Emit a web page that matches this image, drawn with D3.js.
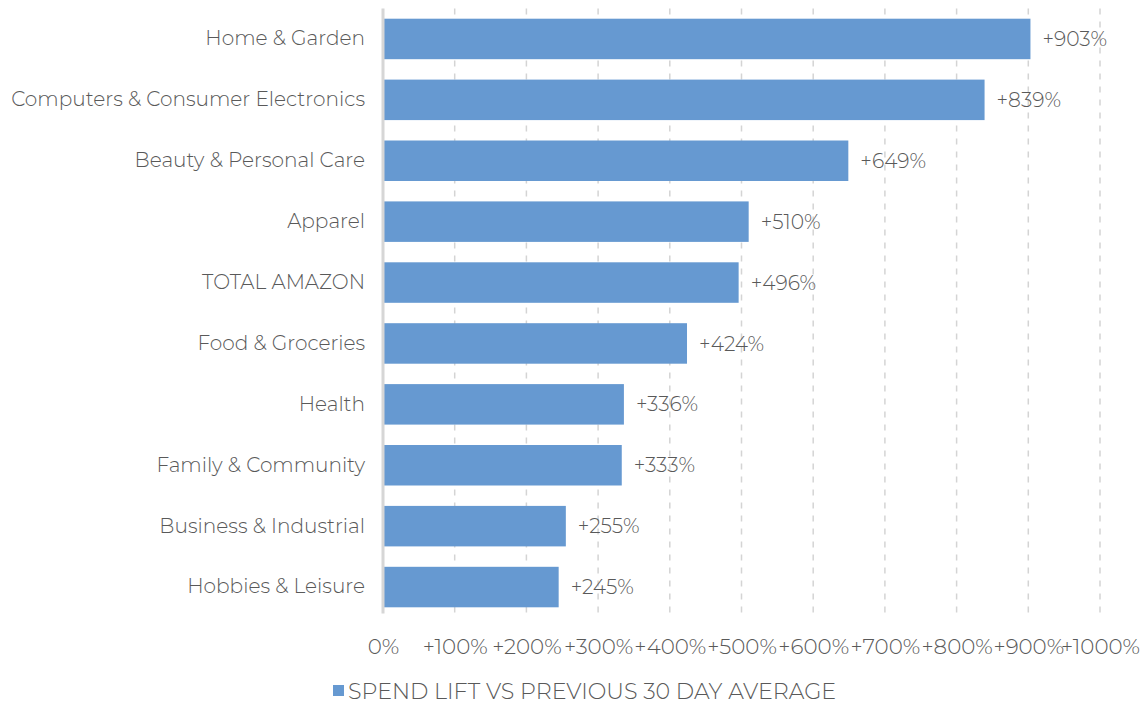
<!DOCTYPE html>
<html>
<head>
<meta charset="utf-8">
<script src="https://cdn.jsdelivr.net/npm/d3@7"></script>
<style>
  html, body { margin: 0; padding: 0; background: #ffffff; }
  svg text { font-family: "Montserrat", "Open Sans", "Lato", sans-serif; fill: #595959; }
</style>
</head>
<body>
<svg id="chart" width="1146" height="701"></svg>
<script>
// Category names, top to bottom
const categories = [
  "Home & Garden",
  "Computers & Consumer Electronics",
  "Beauty & Personal Care",
  "Apparel",
  "TOTAL AMAZON",
  "Food & Groceries",
  "Health",
  "Family & Community",
  "Business & Industrial",
  "Hobbies & Leisure"
];
// Spend lift in percent vs previous 30-day average
const liftValues = [903, 839, 649, 510, 496, 424, 336, 333, 255, 245];
// X axis tick values (percent)
const tickValues = [0, 100, 200, 300, 400, 500, 600, 700, 800, 900, 1000];
const seriesName = "SPEND LIFT VS PREVIOUS 30 DAY AVERAGE";

const svg = d3.select("#chart");
const plotLeft = 383, plotRight = 1100, plotTop = 8.5, plotBottom = 617.5;

const x = d3.scaleLinear().domain([0, 1000]).range([plotLeft, plotRight]);
const y = d3.scaleBand().domain(categories).range([plotTop, plotBottom]).paddingInner(0.335).paddingOuter(0.1675);

const fmt = v => (v === 0 ? "0%" : "+" + v + "%");

// Dashed vertical gridlines
svg.append("g")
  .selectAll("line")
  .data(tickValues.filter(t => t > 0))
  .join("line")
  .attr("x1", d => x(d)).attr("x2", d => x(d))
  .attr("y1", plotTop).attr("y2", plotBottom - 2)
  .attr("stroke", "#d4d4d4")
  .attr("stroke-width", 1.5)
  .attr("stroke-dasharray", "6,7");

// Bars
svg.append("g")
  .selectAll("rect")
  .data(categories)
  .join("rect")
  .attr("x", x(0) + 1)
  .attr("y", d => y(d))
  .attr("width", (d, i) => x(liftValues[i]) - x(0) - 1)
  .attr("height", y.bandwidth())
  .attr("fill", "#6699d1");

// Baseline at 0%
svg.append("line")
  .attr("x1", x(0)).attr("x2", x(0))
  .attr("y1", plotTop).attr("y2", plotBottom - 4)
  .attr("stroke", "#d6d6d6")
  .attr("stroke-width", 3);

// Value labels
svg.append("g")
  .selectAll("text")
  .data(categories)
  .join("text")
  .attr("x", (d, i) => x(liftValues[i]) + 12)
  .attr("y", d => y(d) + y.bandwidth() / 2)
  .attr("dy", "0.35em")
  .attr("font-size", 20.3)
  .attr("font-weight", 300)
  .text((d, i) => fmt(liftValues[i]));

// Category labels (y axis)
const yAxis = d3.axisLeft(y).tickSize(0).tickPadding(18);
const gy = svg.append("g").attr("transform", `translate(${x(0)},0)`).call(yAxis);
gy.select(".domain").remove();
gy.selectAll("text")
  .attr("font-size", 20.1)
  .attr("font-weight", 300)
  .attr("fill", "#595959");

// X axis tick labels
const xAxis = d3.axisBottom(x).tickValues(tickValues).tickSize(0).tickPadding(0).tickFormat(fmt);
const gx = svg.append("g").attr("transform", `translate(0,640)`).call(xAxis);
gx.select(".domain").remove();
gx.selectAll("text")
  .attr("font-size", 21.4)
  .attr("font-weight", 300)
  .attr("fill", "#595959")
  .attr("dy", "0.35em")
  .attr("y", 6);

// Legend
const legend = svg.append("g").attr("transform", "translate(333,691)");
legend.append("rect")
  .attr("x", 0).attr("y", -6)
  .attr("width", 11).attr("height", 11)
  .attr("fill", "#6699d1");
legend.append("text")
  .attr("x", 15).attr("y", 0)
  .attr("dy", "0.35em")
  .attr("font-size", 22.2)
  .attr("font-weight", 300)
  .text(seriesName);
</script>
</body>
</html>
